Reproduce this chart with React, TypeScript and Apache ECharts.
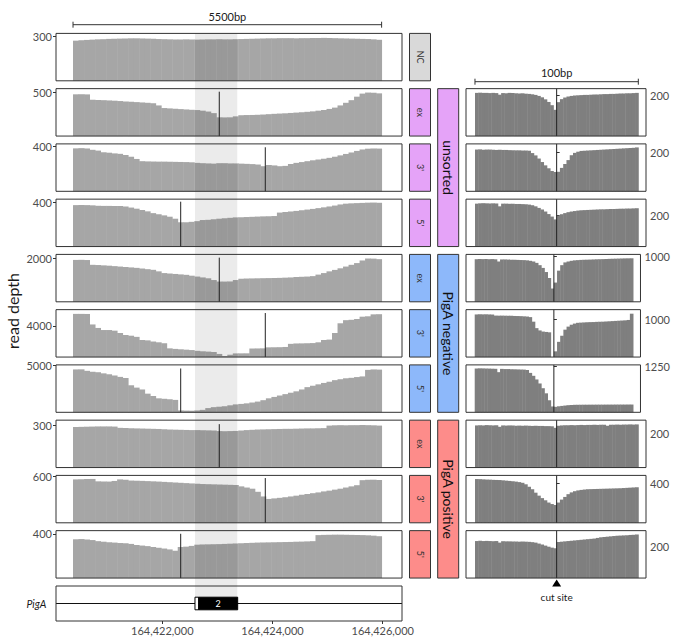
import React, { useEffect, useRef } from "react";
import * as echarts from "echarts";

// ---------------- data ----------------
const panelLabels = ["NC", "ex", "3'", "5'", "ex", "3'", "5'", "ex", "3'", "5'"];
const panelGroup = [-1, 0, 0, 0, 1, 1, 1, 2, 2, 2];
const groupNames = ["unsorted", "PigA negative", "PigA positive"];
const cutKind = ["", "ex", "3'", "5'", "ex", "3'", "5'", "ex", "3'", "5'"];
const cutSites: Record<string, number> = { ex: 164423034, "3'": 164423869, "5'": 164422334 };

const leftTicks = [300, 500, 400, 400, 2000, 4000, 5000, 300, 600, 400];
const leftYMax = [322.4, 541.7, 425, 425.6, 2179, 6106, 5086, 336.6, 611.6, 430.4];
const rightTicks = [200, 200, 200, 1000, 1000, 1250, 200, 400, 200];
const rightYMax = [235, 243, 300.5, 1035, 1246, 1299, 276.8, 480, 302.4];

const leftXMin = 164420071;
const leftXMax = 164426350;
const leftBinStart = 164420380;
const leftBinWidth = 100;
const xTickValues = [164422000, 164424000, 164426000];
const shadeRegion = [164422593, 164423361];
const exons = [
  [164422593, 164422661, 0],
  [164422661, 164423368, 1],
];
const exonLabel = "2";
const geneName = "PigA";

const rightXMin = -55.5;
const rightXMax = 54.7;
const rightBinStart = -50;
const rightBinWidth = 2;

const depthNC = [
  273, 276, 278, 280, 282, 283, 285, 286, 287, 288,
  289, 289, 288, 287, 286, 284, 283, 282, 281, 281,
  282, 281, 280, 281, 282, 282, 283, 282, 282, 283,
  284, 285, 286, 287, 288, 289, 289, 290, 290, 290,
  289, 290, 290, 291, 291, 292, 291, 290, 289, 288,
  287, 286, 285, 284, 282, 279,
];
const depthUnsortedEx = [
  477, 478, 476, 415, 412, 410, 407, 404, 400, 396,
  392, 388, 384, 380, 375, 350, 320, 316, 312, 308,
  304, 300, 297, 290, 280, 262, 214, 213, 214, 225,
  238, 240, 241, 243, 246, 250, 254, 257, 260, 264,
  268, 272, 277, 282, 290, 298, 310, 325, 350, 380,
  410, 450, 485, 497, 495, 488,
];
const depthUnsorted3 = [
  385, 387, 384, 372, 365, 350, 346, 340, 336, 325,
  310, 290, 270, 268, 267, 266, 266, 265, 264, 263,
  262, 260, 255, 252, 250, 248, 252, 252, 250, 250,
  248, 246, 244, 240, 225, 236, 232, 225, 228, 245,
  255, 262, 270, 278, 285, 292, 300, 310, 322, 335,
  348, 362, 375, 382, 384, 383,
];
const depthUnsorted5 = [
  372, 373, 372, 370, 366, 365, 365, 364, 364, 360,
  350, 340, 328, 316, 300, 290, 280, 268, 250, 218,
  218, 222, 228, 238, 240, 245, 250, 254, 258, 262,
  263, 265, 267, 269, 271, 272, 274, 305, 310, 315,
  320, 326, 332, 338, 345, 352, 360, 368, 378, 385,
  388, 390, 392, 394, 395, 393,
];
const depthNegativeEx = [
  1925, 1930, 1920, 1700, 1690, 1675, 1660, 1640, 1620, 1600,
  1580, 1560, 1530, 1500, 1470, 1400, 1320, 1300, 1280, 1260,
  1240, 1200, 1160, 1120, 1080, 1000, 930, 930, 935, 1000,
  1060, 1070, 1075, 1080, 1085, 1090, 1095, 1100, 1110, 1120,
  1140, 1150, 1160, 1180, 1250, 1320, 1400, 1466, 1540, 1620,
  1700, 1780, 1900, 1990, 1985, 1960,
];
const depthNegative3 = [
  5560, 5560, 5550, 4200, 3750, 3480, 3480, 3400, 3100, 2850,
  2750, 2600, 2200, 2150, 2000, 1900, 1780, 1120, 1050, 1000,
  950, 900, 800, 740, 700, 650, 400, 130, 300, 470,
  475, 480, 1100, 1110, 1120, 1250, 1260, 1270, 1300, 1700,
  1750, 1760, 1780, 1800, 1900, 2200, 2250, 3100, 4350, 4750,
  4800, 4900, 5200, 5250, 5500, 5520,
];
const depthNegative5 = [
  4600, 4610, 4450, 4350, 4300, 4180, 4080, 3950, 3800, 3680,
  2900, 2650, 2450, 2000, 1750, 1500, 1450, 1400, 1330, 200,
  180, 170, 200, 260, 450, 550, 600, 650, 750, 850,
  900, 960, 1050, 1150, 1300, 1500, 1650, 1800, 1950, 2100,
  2250, 2450, 2700, 2850, 3000, 3150, 3280, 3450, 3550, 3650,
  3700, 3780, 3850, 4550, 4600, 4580,
];
const depthPositiveEx = [
  288, 289, 290, 291, 292, 292, 292, 291, 282, 280,
  279, 278, 277, 276, 275, 274, 272, 270, 269, 268,
  267, 266, 266, 265, 264, 263, 259, 258, 259, 260,
  263, 266, 268, 270, 271, 272, 273, 274, 275, 275,
  276, 277, 278, 278, 279, 280, 298, 300, 301, 300,
  301, 301, 302, 301, 300, 298,
];
const depthPositive3 = [
  560, 562, 565, 566, 535, 533, 532, 540, 560, 556,
  545, 543, 541, 538, 535, 532, 528, 524, 520, 516,
  512, 508, 504, 500, 498, 496, 494, 492, 490, 488,
  470, 455, 440, 400, 340, 308, 315, 322, 330, 340,
  350, 362, 372, 382, 392, 405, 415, 428, 440, 455,
  470, 485, 550, 555, 556, 552,
];
const depthPositive5 = [
  352, 354, 350, 345, 335, 330, 325, 322, 318, 315,
  310, 300, 295, 290, 282, 275, 268, 260, 248, 282,
  285, 292, 303, 305, 306, 307, 308, 310, 312, 314,
  316, 318, 320, 322, 323, 324, 325, 326, 327, 328,
  330, 331, 333, 335, 390, 392, 393, 394, 394, 393,
  392, 391, 390, 388, 385, 380,
];

// 100bp window around the cut site, 2bp bins from -50 to +50
const zoomUnsortedEx = [
  214, 215, 214, 214, 213, 214, 213, 205, 213, 212,
  214, 213, 212, 211, 212, 210, 209, 207, 204, 199,
  192, 182, 169, 153, 130, 168, 183, 191, 196, 199,
  201, 202, 203, 204, 204, 205, 206, 206, 207, 208,
  208, 209, 209, 210, 211, 211, 212, 212, 213, 214,
];
const zoomUnsorted3 = [
  214, 215, 213, 214, 214, 213, 212, 213, 212, 212,
  211, 211, 210, 210, 209, 209, 208, 196, 184, 168,
  150, 133, 118, 104, 99, 100, 120, 140, 160, 185,
  197, 203, 207, 208, 209, 210, 211, 212, 213, 214,
  215, 216, 217, 218, 219, 220, 221, 222, 223, 225,
];
const zoomUnsorted5 = [
  272, 274, 275, 274, 273, 274, 273, 255, 272, 272,
  271, 272, 270, 270, 269, 268, 266, 262, 255, 245,
  235, 222, 206, 190, 172, 196, 205, 212, 218, 222,
  225, 228, 230, 231, 232, 233, 234, 235, 236, 236,
  237, 238, 238, 239, 240, 240, 241, 241, 242, 243,
];
const zoomNegativeEx = [
  930, 935, 932, 934, 930, 933, 928, 880, 925, 925,
  922, 920, 918, 915, 912, 910, 905, 895, 880, 850,
  800, 740, 650, 520, 290, 420, 680, 800, 860, 880,
  895, 905, 910, 915, 918, 920, 922, 925, 928, 930,
  932, 935, 938, 940, 942, 944, 946, 948, 949, 950,
];
const zoomNegative3 = [
  1120, 1125, 1122, 1124, 1120, 1118, 1090, 1088, 1089, 1087,
  1085, 1083, 1080, 1078, 1075, 1070, 1065, 1050, 930, 760,
  700, 670, 660, 650, 0, 150, 400, 560, 720, 800,
  850, 880, 900, 905, 910, 915, 918, 920, 925, 928,
  930, 935, 940, 945, 950, 955, 960, 965, 975, 1140,
];
const zoomNegative5 = [
  1200, 1205, 1203, 1200, 1198, 1195, 1192, 1100, 1190, 1185,
  1185, 1180, 1178, 1175, 1172, 1170, 1160, 1080, 1000, 900,
  790, 660, 520, 330, 160, 150, 165, 175, 185, 195,
  200, 205, 206, 207, 208, 208, 209, 209, 210, 210,
  210, 211, 211, 211, 212, 212, 212, 212, 213, 213,
];
const zoomPositiveEx = [
  246, 247, 246, 248, 247, 246, 247, 238, 246, 245,
  246, 245, 244, 245, 244, 245, 244, 243, 244, 243,
  243, 242, 242, 241, 232, 244, 246, 247, 247, 248,
  247, 248, 249, 248, 249, 249, 250, 249, 250, 250,
  244, 250, 250, 251, 250, 251, 251, 252, 251, 252,
];
const zoomPositive3 = [
  443, 442, 440, 438, 437, 435, 434, 433, 430, 427,
  424, 420, 417, 412, 405, 390, 365, 340, 305, 275,
  250, 228, 205, 190, 180, 205, 235, 262, 290, 308,
  320, 328, 333, 337, 340, 341, 342, 343, 344, 345,
  346, 347, 348, 349, 350, 352, 354, 356, 358, 360,
];
const zoomPositive5 = [
  236, 238, 236, 237, 236, 235, 236, 226, 235, 234,
  234, 233, 233, 232, 233, 232, 231, 229, 226, 220,
  214, 207, 200, 194, 190, 230, 232, 234, 236, 238,
  240, 242, 244, 246, 248, 250, 252, 256, 260, 262,
  264, 266, 268, 270, 271, 272, 273, 275, 276, 278,
];

const leftDepths = [
  depthNC, depthUnsortedEx, depthUnsorted3, depthUnsorted5,
  depthNegativeEx, depthNegative3, depthNegative5,
  depthPositiveEx, depthPositive3, depthPositive5,
];
const rightDepths = [
  zoomUnsortedEx, zoomUnsorted3, zoomUnsorted5,
  zoomNegativeEx, zoomNegative3, zoomNegative5,
  zoomPositiveEx, zoomPositive3, zoomPositive5,
];

// ---------------- layout / style ----------------
const FONT = "Lato, 'Open Sans', 'DejaVu Sans', sans-serif";
const W = 673;
const H = 637;
const LEFT_X = 56;
const LEFT_W = 346;
const RIGHT_X = 466;
const RIGHT_W = 180;
const ROW_H = 47.4;
const ROW_TOPS = [0, 1, 2, 3, 4, 5, 6, 7, 8, 9].map((k) => 33.4 + 55.25 * k);
const GENE_TOP = 586;
const GENE_H = 35;
const STRIP1_X = 409.5;
const STRIP2_X = 437.7;
const STRIP_W = 21;
const BORDER = "#333333";
const LEFT_BAR = "#a6a6a6";
const RIGHT_BAR = "#7f7f7f";
const STRIP_COLORS = ["#e5a3f8", "#8db8fa", "#fd8c8a"];
const NC_COLOR = "#d9d9d9";
const AXIS_TEXT = "#4d4d4d";

function barSeries(axisIdx: number, values: number[], start: number, width: number, color: string) {
  return {
    type: "custom",
    coordinateSystem: "cartesian2d",
    xAxisIndex: axisIdx,
    yAxisIndex: axisIdx,
    silent: true,
    z: 2,
    encode: { x: [0, 1], y: 2 },
    data: values.map((v, i) => [start + i * width, start + (i + 1) * width, v]),
    renderItem: (params: any, api: any) => {
      const a = api.coord([api.value(0), api.value(2)]);
      const b = api.coord([api.value(1), 0]);
      return {
        type: "rect",
        shape: { x: a[0], y: a[1], width: b[0] - a[0] + 0.45, height: b[1] - a[1] },
        style: { fill: color },
      };
    },
  };
}

function cutSeries(axisIdx: number, pos: number, top: number, full: boolean) {
  return {
    type: "custom",
    coordinateSystem: "cartesian2d",
    xAxisIndex: axisIdx,
    yAxisIndex: axisIdx,
    silent: true,
    z: 3,
    encode: { x: 0, y: 1 },
    data: [[pos, top]],
    renderItem: (params: any, api: any) => {
      const a = api.coord([api.value(0), 0]);
      const b = full ? [a[0], params.coordSys.y] : api.coord([api.value(0), api.value(1)]);
      return {
        type: "line",
        shape: { x1: a[0], y1: a[1], x2: b[0], y2: b[1] },
        style: { stroke: "#222", lineWidth: 1 },
      };
    },
  };
}

function yAxisFor(gridIndex: number, max: number, tick: number, position: string) {
  return {
    gridIndex,
    type: "value",
    min: 0,
    max,
    position,
    axisLine: { show: false },
    splitLine: { show: false },
    axisTick: { show: true, length: 3, customValues: [tick], lineStyle: { color: BORDER } },
    axisLabel: {
      show: true,
      customValues: [tick],
      fontSize: 11,
      color: AXIS_TEXT,
      margin: 4,
      fontFamily: FONT,
      formatter: (v: number) => String(Math.round(v)),
    },
  };
}

function buildOption() {
  const grid: any[] = [];
  const xAxis: any[] = [];
  const yAxis: any[] = [];
  const series: any[] = [];
  const gridBase = { show: true, borderColor: BORDER, borderWidth: 1, backgroundColor: "transparent", z: 10 };

  // left panels: indices 0..9
  leftDepths.forEach((d, k) => {
    grid.push({ ...gridBase, left: LEFT_X, top: ROW_TOPS[k], width: LEFT_W, height: ROW_H });
    xAxis.push({ gridIndex: k, type: "value", min: leftXMin, max: leftXMax, show: false });
    yAxis.push(yAxisFor(k, leftYMax[k], leftTicks[k], "left"));
    series.push(barSeries(k, d, leftBinStart, leftBinWidth, LEFT_BAR));
    if (cutKind[k]) {
      series.push(cutSeries(k, cutSites[cutKind[k]], Math.max(...d) * 1.02, false));
    }
  });

  // gene panel: index 10
  grid.push({ ...gridBase, left: LEFT_X, top: GENE_TOP, width: LEFT_W, height: GENE_H });
  xAxis.push({
    gridIndex: 10,
    type: "value",
    min: leftXMin,
    max: leftXMax,
    position: "bottom",
    axisLine: { show: false },
    splitLine: { show: false },
    axisTick: { show: true, length: 3, customValues: xTickValues, lineStyle: { color: BORDER } },
    axisLabel: {
      show: true,
      customValues: xTickValues,
      fontSize: 11,
      color: AXIS_TEXT,
      margin: 4,
      fontFamily: FONT,
      formatter: (v: number) => Math.round(v).toLocaleString("en-US"),
    },
  });
  yAxis.push({ gridIndex: 10, type: "value", min: 0, max: 1, show: false });
  series.push({
    type: "custom",
    coordinateSystem: "cartesian2d",
    xAxisIndex: 10,
    yAxisIndex: 10,
    silent: true,
    z: 9,
    data: [[0, 0.5]],
    encode: { x: 0, y: 1 },
    renderItem: (params: any, api: any) => {
      const cs = params.coordSys;
      const y = api.coord([leftXMin, api.value(1)])[1];
      return {
        type: "line",
        shape: { x1: cs.x, y1: y, x2: cs.x + cs.width, y2: y },
        style: { stroke: "#111", lineWidth: 1 },
      };
    },
  });
  series.push({
    type: "custom",
    coordinateSystem: "cartesian2d",
    xAxisIndex: 10,
    yAxisIndex: 10,
    silent: true,
    z: 9,
    encode: { x: [0, 1] },
    data: exons,
    renderItem: (params: any, api: any) => {
      const kind = api.value(2);
      const a = api.coord([api.value(0), 0.68]);
      const b = api.coord([api.value(1), 0.32]);
      const children: any[] = [
        {
          type: "rect",
          shape: { x: a[0], y: a[1], width: b[0] - a[0], height: b[1] - a[1] },
          style: { fill: kind ? "#000" : "#fff", stroke: "#000", lineWidth: 1 },
        },
      ];
      if (kind) {
        children.push({
          type: "text",
          style: {
            text: exonLabel,
            x: (a[0] + b[0]) / 2,
            y: (a[1] + b[1]) / 2,
            fill: "#fff",
            fontSize: 9,
            fontFamily: FONT,
            align: "center",
            verticalAlign: "middle",
          },
        });
      }
      return { type: "group", children };
    },
  });

  // right panels: indices 11..19
  rightDepths.forEach((d, j) => {
    const idx = 11 + j;
    const row = j + 1;
    grid.push({ ...gridBase, left: RIGHT_X, top: ROW_TOPS[row], width: RIGHT_W, height: ROW_H });
    xAxis.push({ gridIndex: idx, type: "value", min: rightXMin, max: rightXMax, show: false });
    yAxis.push(yAxisFor(idx, rightYMax[j], rightTicks[j], "right"));
    series.push(barSeries(idx, d, rightBinStart, rightBinWidth, RIGHT_BAR));
    series.push(cutSeries(idx, 0, rightYMax[j], true));
  });

  // shaded exon overlay: index 20
  const shadeTop = ROW_TOPS[0];
  const shadeBottom = GENE_TOP + GENE_H / 2;
  grid.push({ left: LEFT_X, top: shadeTop, width: LEFT_W, height: shadeBottom - shadeTop, show: false });
  xAxis.push({ gridIndex: 20, type: "value", min: leftXMin, max: leftXMax, show: false });
  yAxis.push({ gridIndex: 20, type: "value", min: 0, max: 1, show: false });
  series.push({
    type: "custom",
    coordinateSystem: "cartesian2d",
    xAxisIndex: 20,
    yAxisIndex: 20,
    silent: true,
    z: 8,
    encode: { x: [0, 1] },
    data: [[shadeRegion[0], shadeRegion[1]]],
    renderItem: (params: any, api: any) => {
      const a = api.coord([api.value(0), 1]);
      const b = api.coord([api.value(1), 0]);
      return {
        type: "rect",
        shape: { x: a[0], y: a[1], width: b[0] - a[0], height: b[1] - a[1] },
        style: { fill: "rgba(0,0,0,0.08)" },
      };
    },
  });

  return {
    animation: false,
    backgroundColor: "#ffffff",
    textStyle: { fontFamily: FONT },
    grid,
    xAxis,
    yAxis,
    series,
  };
}

function txt(x: number, y: number, text: string, size: number, extra: any = {}, rotation = 0) {
  return {
    type: "text",
    x,
    y,
    rotation,
    z: 30,
    silent: true,
    style: {
      text,
      fill: extra.fill || "#1a1a1a",
      fontSize: size,
      fontFamily: FONT,
      fontStyle: extra.fontStyle || "normal",
      textAlign: extra.align || "center",
      textVerticalAlign: "middle",
      align: extra.align || "center",
      verticalAlign: "middle",
    },
  };
}

function scaleBar(x1: number, x2: number, y: number, label: string, labelY: number) {
  const ls = { stroke: "#333", lineWidth: 1 };
  return [
    { type: "line", z: 30, silent: true, shape: { x1, y1: y, x2, y2: y }, style: ls },
    { type: "line", z: 30, silent: true, shape: { x1, y1: y - 3, x2: x1, y2: y + 3 }, style: ls },
    { type: "line", z: 30, silent: true, shape: { x1: x2, y1: y - 3, x2, y2: y + 3 }, style: ls },
    txt((x1 + x2) / 2, labelY, label, 11),
  ];
}

function buildGraphic(chart: any) {
  const g: any[] = [];
  // strips
  for (let k = 0; k < 10; k++) {
    const top = ROW_TOPS[k];
    const grp = panelGroup[k];
    g.push({
      type: "rect",
      z: 20,
      silent: true,
      shape: { x: STRIP1_X, y: top, width: STRIP_W, height: ROW_H },
      style: { fill: grp < 0 ? NC_COLOR : STRIP_COLORS[grp], stroke: BORDER, lineWidth: 1 },
    });
    g.push(txt(STRIP1_X + STRIP_W / 2, top + ROW_H / 2, panelLabels[k], 9, { fill: "#333" }, -Math.PI / 2));
  }
  groupNames.forEach((name, gi) => {
    const top = ROW_TOPS[1 + gi * 3];
    const bottom = ROW_TOPS[3 + gi * 3] + ROW_H;
    g.push({
      type: "rect",
      z: 20,
      silent: true,
      shape: { x: STRIP2_X, y: top, width: STRIP_W, height: bottom - top },
      style: { fill: STRIP_COLORS[gi], stroke: BORDER, lineWidth: 1 },
    });
    g.push(txt(STRIP2_X + STRIP_W / 2, (top + bottom) / 2, name, 14, { fill: "#111" }, -Math.PI / 2));
  });

  // y title
  g.push(txt(12, 311, "read depth", 16, {}, Math.PI / 2));
  // gene name
  g.push(txt(46.5, GENE_TOP + GENE_H / 2, geneName, 10.5, { fontStyle: "italic", align: "right" }));

  // scale bars
  const nLeft = depthNC.length;
  const lx1 = chart.convertToPixel({ xAxisIndex: 0 }, leftBinStart);
  const lx2 = chart.convertToPixel({ xAxisIndex: 0 }, leftBinStart + nLeft * leftBinWidth);
  g.push(...scaleBar(lx1, lx2, 24.7, "5500bp", 16.5));
  const nRight = zoomUnsortedEx.length;
  const rx1 = chart.convertToPixel({ xAxisIndex: 11 }, rightBinStart);
  const rx2 = chart.convertToPixel({ xAxisIndex: 11 }, rightBinStart + nRight * rightBinWidth);
  g.push(...scaleBar(rx1, rx2, 81.7, "100bp", 72.5));

  // cut site marker
  const cx = chart.convertToPixel({ xAxisIndex: 11 }, 0);
  g.push({
    type: "polygon",
    z: 30,
    silent: true,
    shape: { points: [[cx - 4.5, 586.5], [cx + 4.5, 586.5], [cx, 579.5]] },
    style: { fill: "#000" },
  });
  g.push(txt(cx, 597, "cut site", 10));
  return g;
}

export default function App() {
  const ref = useRef<HTMLDivElement>(null);
  useEffect(() => {
    if (!ref.current) return;
    const chart = echarts.init(ref.current, null, { renderer: "svg" });
    chart.setOption(buildOption());
    chart.setOption({ graphic: buildGraphic(chart) });
    return () => chart.dispose();
  }, []);
  return (
    <div
      ref={ref}
      style={{ position: "fixed", left: 0, top: 0, width: W, height: H, background: "#fff" }}
    />
  );
}
